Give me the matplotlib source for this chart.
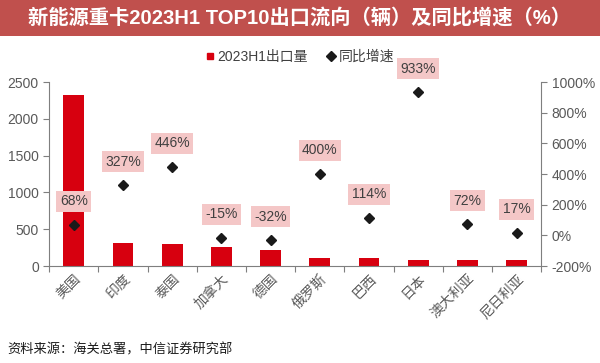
import numpy as np
import matplotlib.pyplot as plt
from matplotlib.patches import Rectangle
from matplotlib.lines import Line2D

plt.rcParams['font.family'] = ['Liberation Sans', 'Noto Sans CJK SC', 'DejaVu Sans']

countries = ['美国', '印度', '泰国', '加拿大', '德国', '俄罗斯', '巴西', '日本', '澳大利亚', '尼日利亚']
exports = [2320, 315, 300, 262, 225, 115, 104, 86, 85, 77]
growth = [68, 327, 446, -15, -32, 400, 114, 933, 72, 17]

bar_color = '#d7000f'
axis_gray = '#7f7f7f'
text_gray = '#595959'

fig = plt.figure(figsize=(6, 3.63), dpi=100)

# title band
fig.patches.append(Rectangle((0, 0.9), 1, 0.1, transform=fig.transFigure,
                             facecolor='#c0504d', edgecolor='none', zorder=0))
fig.text(0.5, 0.951, '新能源重卡2023H1 TOP10出口流向（辆）及同比增速（%）',
         ha='center', va='center', color='white', fontsize=14.6, fontweight='bold')

ax = fig.add_axes([0.082, 0.267, 0.82, 0.507])
x = np.arange(len(countries))
ax.bar(x, exports, width=0.42, color=bar_color, zorder=2)
ax.set_xlim(-0.5, len(countries) - 0.5)
ax.set_ylim(0, 2500)
ax.set_yticks(np.arange(0, 2501, 500))
ax.set_xticks(np.arange(-0.5, len(countries)), minor=False)
ax.set_xticklabels([])
ax.set_xticks(x, minor=True)
ax.set_xticklabels(countries, minor=True, rotation=45, ha='right', va='top',
                   rotation_mode='anchor', fontsize=10, color=text_gray)
ax.tick_params(axis='x', which='minor', length=0, pad=4)
ax.tick_params(axis='x', which='major', length=4, color=axis_gray, direction='out')
ax.tick_params(axis='y', length=4, color=axis_gray, labelsize=10, labelcolor=text_gray)
for side in ['top', 'right']:
    ax.spines[side].set_visible(False)
for side in ['left', 'bottom']:
    ax.spines[side].set_color(axis_gray)

ax2 = ax.twinx()
ax2.set_ylim(-200, 1000)
ax2.set_yticks(np.arange(-200, 1001, 200))
ax2.set_yticklabels([f'{v}%' for v in range(-200, 1001, 200)])
ax2.tick_params(axis='y', length=4, color=axis_gray, labelsize=10, labelcolor=text_gray)
for side in ['top', 'left', 'bottom']:
    ax2.spines[side].set_visible(False)
ax2.spines['right'].set_color(axis_gray)
ax2.plot(x, growth, linestyle='none', marker='D', markersize=5.5, color='#1a1a1a', zorder=3)
for xi, g in zip(x, growth):
    ax2.annotate(f'{g}%', (xi, g), xytext=(0, 12), textcoords='offset points',
                 ha='center', va='bottom', fontsize=10, color='#404040',
                 bbox=dict(boxstyle='square,pad=0.25', facecolor='#f4c7c7', edgecolor='none'))

handles = [Line2D([], [], linestyle='none', marker='s', markersize=5, color=bar_color),
           Line2D([], [], linestyle='none', marker='D', markersize=5, color='#1a1a1a')]
fig.legend(handles, ['2023H1出口量', '同比增速'], loc='center', bbox_to_anchor=(0.5, 0.843),
           ncol=2, frameon=False, fontsize=10, handlelength=0.6, handletextpad=0.2,
           columnspacing=1.4, labelcolor='#404040')

fig.text(0.013, 0.035, '资料来源：海关总署，中信证券研究部', fontsize=9.5, color='#1a1a1a',
         ha='left', va='center')

plt.savefig('out.png', dpi=100)
